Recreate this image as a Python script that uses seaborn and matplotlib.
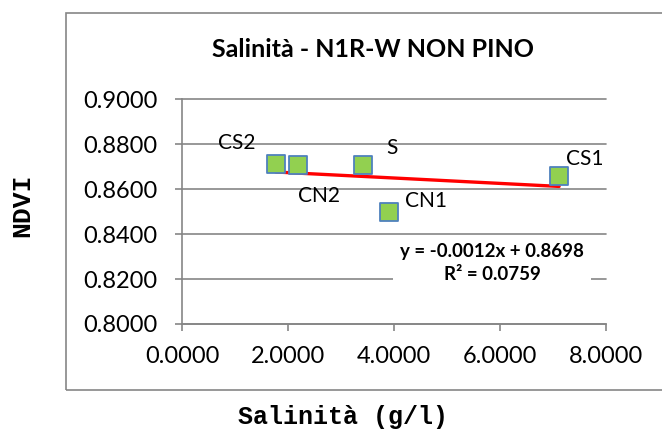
import matplotlib
matplotlib.use("Agg")
import matplotlib.pyplot as plt
import seaborn as sns
import pandas as pd
import numpy as np
from matplotlib.patches import Rectangle

# Sample sites: salinity (g/l) vs NDVI
sites = ["CS2", "CN2", "S", "CN1", "CS1"]
salinity = [1.766, 2.18, 3.416, 3.90, 7.12]
ndvi = [0.8711, 0.8708, 0.8710, 0.8499, 0.8659]

# Linear trend reported on the chart
slope = -0.0012
intercept = 0.8698
r_squared = 0.0759

x_ticks = [0, 2, 4, 6, 8]
y_ticks = [0.80, 0.82, 0.84, 0.86, 0.88, 0.90]

# label offsets in pixels (dx, dy) relative to each marker
label_offsets = {"CS2": (-39, 21), "CN2": (21, -31), "S": (29, 17),
                 "CN1": (37, 11), "CS1": (26, 17)}

df = pd.DataFrame({"site": sites, "salinity": salinity, "ndvi": ndvi})

sns.set_theme(style="white")
plt.rcParams["font.family"] = ["Lato", "DejaVu Sans"]

fig = plt.figure(figsize=(6.62, 4.32), dpi=100)
ax = fig.add_axes([182.3 / 662, 1 - 324 / 432, (605.7 - 182.3) / 662, (324 - 99.4) / 432])

grid_c = "#868686"

# outer chart frame
fig.patches.append(Rectangle((66 / 662, 1 - 390 / 432), 620 / 662, (390 - 13) / 432,
                             transform=fig.transFigure, fill=False,
                             edgecolor=grid_c, linewidth=1.2, zorder=0))

ax.set_xlim(0, 8)
ax.set_ylim(0.80, 0.90)
ax.set_xticks(x_ticks)
ax.set_yticks(y_ticks)
ax.set_xticklabels([f"{v:.4f}" for v in x_ticks])
ax.set_yticklabels([f"{v:.4f}" for v in y_ticks])
for yv in y_ticks:
    ax.axhline(yv, color=grid_c, lw=1.2, zorder=0, clip_on=False)

for side in ["top", "right"]:
    ax.spines[side].set_visible(False)
for side in ["left", "bottom"]:
    ax.spines[side].set_color(grid_c)
    ax.spines[side].set_linewidth(1.2)

ax.tick_params(axis="both", which="major", direction="out", length=5,
               width=1.2, color=grid_c, labelsize=17, labelcolor="black")
ax.tick_params(axis="y", pad=13, left=True)
ax.tick_params(axis="x", pad=11, bottom=True)

# trend line over the range of the data
x_fit = np.array([min(salinity), max(salinity)])
fit_df = pd.DataFrame({"x": x_fit, "y": intercept + slope * x_fit})
sns.lineplot(data=fit_df, x="x", y="y", ax=ax, color="#FF0000", linewidth=2.4, zorder=3)

sns.scatterplot(data=df, x="salinity", y="ndvi", ax=ax, marker="s", s=175,
                color="#92D050", edgecolor="#4F81BD", linewidth=1.3, zorder=4)

for name, xv, yv in zip(sites, salinity, ndvi):
    dx, dy = label_offsets[name]
    ax.annotate(name, (xv, yv), xytext=(dx, dy), textcoords="offset pixels",
                ha="center", va="center", fontsize=15, color="black", zorder=5)

# equation box
eq_text = f"y = {slope:.4f}x + {intercept:.4f}\nR² = {r_squared:.4f}"
ax.text(492 / 662, 1 - 263 / 432, eq_text, transform=fig.transFigure,
        ha="center", va="center", fontsize=13.5, fontweight="bold",
        linespacing=1.5, color="black", zorder=6,
        bbox=dict(boxstyle="square,pad=0.4", facecolor="white", edgecolor="none"))

ax.set_xlabel("")
ax.set_ylabel("")

fig.text(373 / 662, 1 - 49.7 / 432, "Salinità - N1R-W NON PINO", ha="center", va="center",
         fontsize=18, fontweight="bold", color="black")
fig.text(343 / 662, 1 - 424 / 432, "Salinità (g/l)", ha="center", va="baseline",
         fontsize=18, fontweight="bold", family="Liberation Mono", color="black")
fig.text(22.5 / 662, 1 - 205 / 432, "NDVI", ha="center", va="center", rotation=90,
         fontsize=19, fontweight="bold", family="Liberation Mono", color="black")

fig.savefig("out.png", dpi=100)
